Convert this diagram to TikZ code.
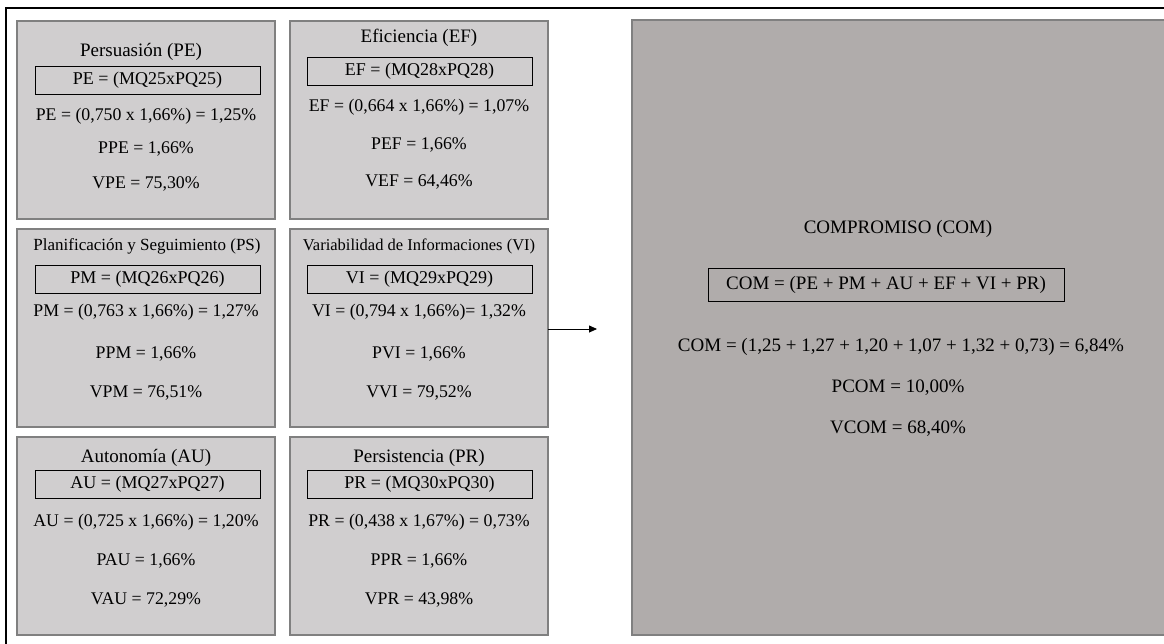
\documentclass[tikz,border=0pt]{standalone}
\usepackage{fontspec}
\setmainfont{Liberation Serif}
\usetikzlibrary{arrows.meta}
\definecolor{smallfill}{RGB}{208,206,207}
\definecolor{bigfill}{RGB}{176,172,171}
\definecolor{edgegray}{RGB}{128,128,128}
\tikzset{
  sbox/.style={draw=edgegray, fill=smallfill, line width=1.5pt, anchor=north west, inner sep=0pt, outer sep=0pt},
  bbox/.style={draw=edgegray, fill=bigfill, line width=1.5pt, anchor=north west, inner sep=0pt, outer sep=0pt},
  fbox/.style={draw=black, line width=1pt, minimum width=225pt, minimum height=28pt, inner sep=0pt, font=\fontsize{18}{20}\selectfont},
  ttl/.style={inner sep=0pt, font=\fontsize{19}{22}\selectfont},
  ttls/.style={inner sep=0pt, font=\fontsize{17}{20}\selectfont},
  txt/.style={inner sep=0pt, font=\fontsize{17.8}{20}\selectfont},
  btxt/.style={inner sep=0pt, font=\fontsize{19}{22}\selectfont},
}
\begin{document}
\begin{tikzpicture}[x=1pt,y=-1pt]
\useasboundingbox (0,0) rectangle (1164,643);
% outer frame (clipped)
\draw[line width=2pt] (6,644) -- (6,8) -- (1165,8);
% small boxes
\node[sbox, minimum width=258pt, minimum height=198pt] (bPE) at (17,21) {};
\node[sbox, minimum width=258pt, minimum height=198pt] (bEF) at (290,21) {};
\node[sbox, minimum width=258pt, minimum height=198pt] (bPS) at (17,229) {};
\node[sbox, minimum width=258pt, minimum height=198pt] (bVI) at (290,229) {};
\node[sbox, minimum width=258pt, minimum height=198pt] (bAU) at (17,437) {};
\node[sbox, minimum width=258pt, minimum height=198pt] (bPR) at (290,437) {};
% big box
\node[bbox, minimum width=540pt, minimum height=615pt] (bCOM) at (632,20) {};
% arrow
\coordinate (arrEnd) at (597,329);
\draw[line width=0.8pt, -{Triangle[length=8pt,width=7pt]}] (bVI.east |- arrEnd) -- (arrEnd);

% PE
\node[ttl] (tPE) at (141,52) {Persuasión (PE)};
\node[fbox] (fPE) at (147.5,80) {PE = (MQ25xPQ25)};
\node[txt] (lPE1) at (146,116) {PE = (0,750 x 1,66\%) = 1,25\%};
\node[txt] (lPE2) at (146,149) {PPE = 1,66\%};
\node[txt] (lPE3) at (146,184) {VPE = 75,30\%};
% EF
\node[ttl] (tEF) at (419,38) {Eficiencia (EF)};
\node[fbox] (fEF) at (419.5,71) {EF = (MQ28xPQ28)};
\node[txt] (lEF1) at (419,107) {EF = (0,664 x 1,66\%) = 1,07\%};
\node[txt] (lEF2) at (419,145) {PEF = 1,66\%};
\node[txt] (lEF3) at (419,182) {VEF = 64,46\%};
% PS
\node[ttls] (tPS) at (147,246) {Planificación y Seguimiento (PS)};
\node[fbox] (fPS) at (147.5,279.5) {PM = (MQ26xPQ26)};
\node[txt] (lPS1) at (146,312) {PM = (0,763 x 1,66\%) = 1,27\%};
\node[txt] (lPS2) at (146,354) {PPM = 1,66\%};
\node[txt] (lPS3) at (146,393) {VPM = 76,51\%};
% VI
\node[ttls, font=\fontsize{16.5}{19}\selectfont] (tVI) at (419,246) {Variabilidad de Informaciones (VI)};
\node[fbox] (fVI) at (419.5,279) {VI = (MQ29xPQ29)};
\node[txt] (lVI1) at (419,312) {VI = (0,794 x 1,66\%)= 1,32\%};
\node[txt] (lVI2) at (419,354) {PVI = 1,66\%};
\node[txt] (lVI3) at (419,393) {VVI = 79,52\%};
% AU
\node[ttl] (tAU) at (146,458) {Autonomía (AU)};
\node[fbox] (fAU) at (147.5,484) {AU = (MQ27xPQ27)};
\node[txt] (lAU1) at (146,522) {AU = (0,725 x 1,66\%) = 1,20\%};
\node[txt] (lAU2) at (146,561) {PAU = 1,66\%};
\node[txt] (lAU3) at (146,600) {VAU = 72,29\%};
% PR
\node[ttl] (tPR) at (419,458) {Persistencia (PR)};
\node[fbox] (fPR) at (419.5,484.5) {PR = (MQ30xPQ30)};
\node[txt] (lPR1) at (419,522) {PR = (0,438 x 1,67\%) = 0,73\%};
\node[txt] (lPR2) at (419,561) {PPR = 1,66\%};
\node[txt] (lPR3) at (419,600) {VPR = 43,98\%};
% COM
\node[btxt] (tCOM) at (898,229) {COMPROMISO (COM)};
\node[fbox, minimum width=356pt, minimum height=33pt, font=\fontsize{19}{22}\selectfont] (fCOM) at (886,284.5) {COM = (PE + PM + AU + EF + VI + PR)};
\node[btxt] (lCOM1) at (901,347) {COM = (1,25 + 1,27 + 1,20 + 1,07 + 1,32 + 0,73) = 6,84\%};
\node[btxt] (lCOM2) at (898,388) {PCOM = 10,00\%};
\node[btxt] (lCOM3) at (898,429) {VCOM = 68,40\%};
\end{tikzpicture}
\end{document}
